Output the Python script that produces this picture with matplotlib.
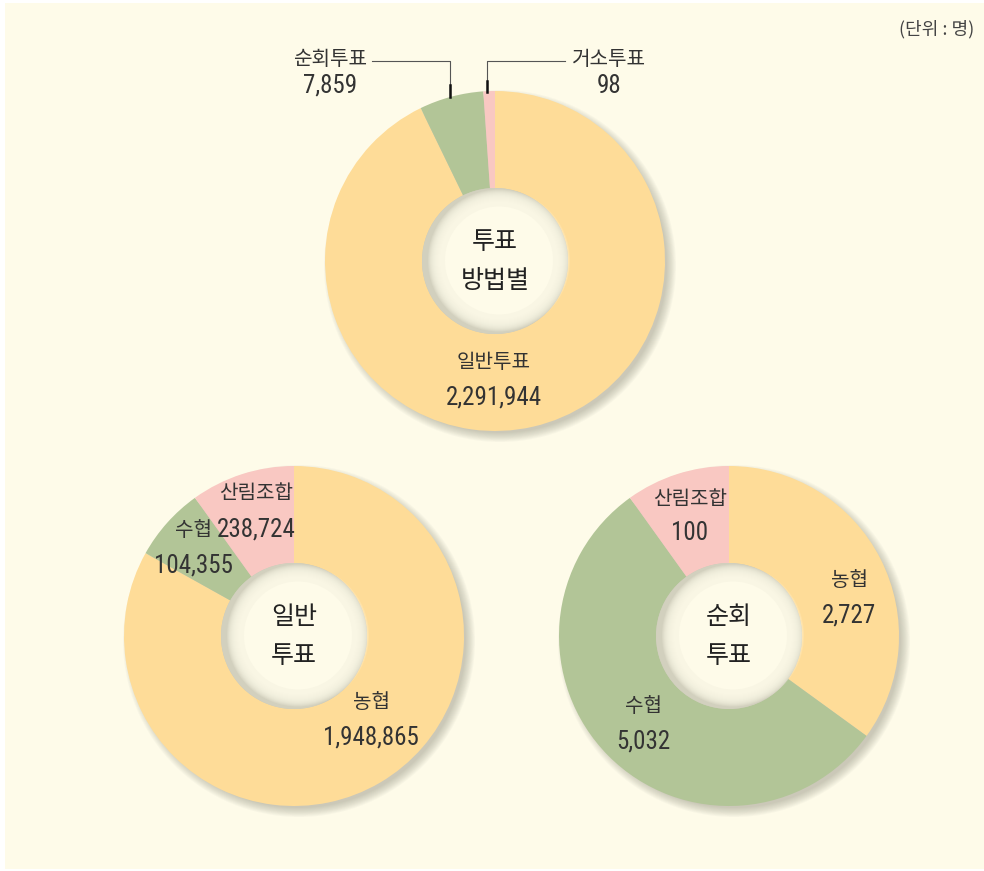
import matplotlib
matplotlib.use("Agg")
import matplotlib.pyplot as plt
from matplotlib.patches import Circle, Rectangle
import logging

logging.getLogger("matplotlib.font_manager").setLevel(logging.ERROR)
plt.rcParams['font.family'] = ['Noto Sans CJK KR', 'DejaVu Sans']

W, H = 984, 871
BG = "#fefbe9"
YELLOW, GREEN, PINK = "#fedc98", "#b2c597", "#f9c8c2"

# values as printed on the chart
top_names = ["일반투표", "순회투표", "거소투표"]
top_values = [2291944, 7859, 98]
# the picture does not draw small slices to scale, so shares (%) are read off the picture
top_shares = [92.8, 6.1, 1.1]

left_names = ["농협", "수협", "산림조합"]
left_values = [1948865, 104355, 238724]
left_shares = [83.1, 7.0, 9.9]

right_names = ["농협", "수협", "산림조합"]
right_values = [2727, 5032, 100]
right_shares = [35.0, 55.1, 9.9]

colors = [YELLOW, GREEN, PINK]
NUM_FONT = ['Liberation Sans Narrow', 'Roboto Condensed', 'Noto Sans CJK KR']


def Y(y):
    return H - y


fig = plt.figure(figsize=(W / 100, H / 100), dpi=100)
fig.patch.set_facecolor("white")
ax = fig.add_axes([0, 0, 1, 1])
ax.add_patch(Rectangle((5, Y(869)), W - 5, 866, facecolor=BG, edgecolor="none", zorder=0))

R_OUT, R_IN = 170, 73


def donut(cx, cy, shares, title):
    c = (cx, Y(cy))
    # soft drop shadow to lower right
    for k in range(11):
        ax.add_patch(Circle((cx + 5, Y(cy) - 5), R_OUT - 3 + k * 0.9,
                            facecolor="#7a7a6a", edgecolor="none", alpha=0.04, zorder=1))
    wedges, _ = ax.pie(shares, colors=colors, startangle=90, counterclock=False,
                       center=c, radius=R_OUT, frame=True,
                       wedgeprops=dict(width=R_OUT - R_IN, edgecolor="none"))
    for w in wedges:
        w.set_zorder(2)
    # sunken hole
    ax.add_patch(Circle(c, R_IN, facecolor="#d2d0be", edgecolor="none", zorder=3))
    for k in range(18):
        ax.add_patch(Circle((cx + 4, Y(cy) + 0.5), R_IN - 2 - k * 0.9,
                            facecolor=BG, edgecolor="none", alpha=0.17, zorder=3))
    ax.add_patch(Circle((cx + 4, Y(cy) + 0.5), R_IN - 19, facecolor=BG, edgecolor="none", zorder=3))
    ax.text(cx, Y(cy - 19), title[0], ha="center", va="center", fontsize=18,
            fontweight="medium", color="#222222", zorder=5)
    ax.text(cx, Y(cy + 20), title[1], ha="center", va="center", fontsize=18,
            fontweight="medium", color="#222222", zorder=5)


donut(495, 261, top_shares, ["투표", "방법별"])
donut(294, 636, left_shares, ["일반", "투표"])
donut(729, 636, right_shares, ["순회", "투표"])

TXT = "#333333"
LBL = 14.5
NUM = 18


def label(x, y, name, value, dy=34, ha="center"):
    ax.text(x, Y(y), name, ha=ha, va="center", fontsize=LBL, color=TXT, zorder=6)
    ax.text(x, Y(y + dy), f"{value:,}", ha=ha, va="center", fontsize=NUM, color=TXT,
            family=NUM_FONT, zorder=6)


# top donut labels with leader lines
label(330, 60, top_names[1], top_values[1], dy=26)
label(609, 60, top_names[2], top_values[2], dy=26)
ax.plot([372, 450, 450], [Y(61), Y(61), Y(97)], color="#555555", lw=0.8, zorder=6)
ax.plot([450, 450], [Y(85), Y(97)], color="#111111", lw=1.8, zorder=6)
ax.plot([565, 487, 487], [Y(61), Y(61), Y(92)], color="#555555", lw=0.8, zorder=6)
ax.plot([487, 487], [Y(81), Y(92)], color="#111111", lw=1.8, zorder=6)
label(494, 363, top_names[0], top_values[0], dy=35)

# bottom left
label(256, 493, left_names[2], left_values[2], dy=37)
label(193, 530, left_names[1], left_values[1], dy=35)
label(371, 703, left_names[0], left_values[0], dy=34)

# bottom right
label(690, 500, right_names[2], right_values[2], dy=33)
label(849, 581, right_names[0], right_values[0], dy=35)
label(643, 706, right_names[1], right_values[1], dy=35)

ax.text(974, Y(29), "(단위 : 명)", ha="right", va="center", fontsize=13, color="#444444")

ax.set_xlim(0, W)
ax.set_ylim(0, H)
ax.set_aspect("equal")
ax.axis("off")

fig.savefig("out.png", dpi=100, facecolor=fig.get_facecolor())
